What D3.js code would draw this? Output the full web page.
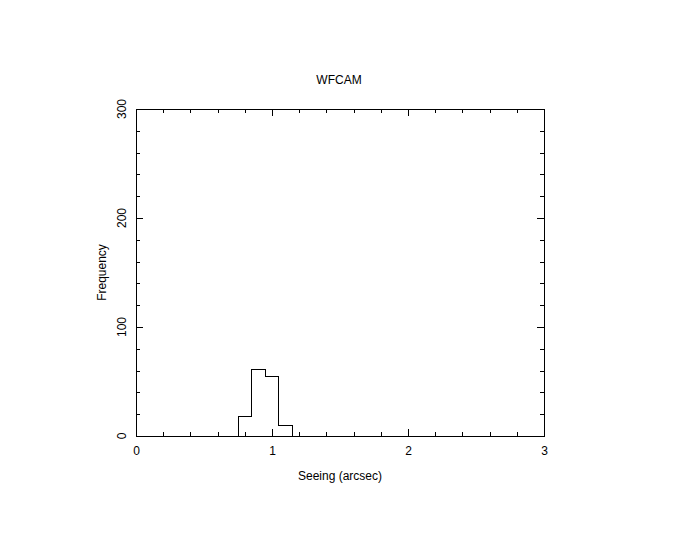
<!DOCTYPE html>
<html lang="en">
<head>
<meta charset="utf-8">
<title>WFCAM seeing</title>
<script src="https://cdn.jsdelivr.net/npm/d3@7"></script>
<style>
  body { margin: 0; background: #fff; }
  text { font-family: "Liberation Sans", "DejaVu Sans", sans-serif; font-size: 12px; fill: #000; }
</style>
</head>
<body>
<script>
// histogram data
var binStarts = [0.75, 0.85, 0.95, 1.05];
var binWidth = 0.1;
var counts = [18, 61, 55, 10];

var xMajor = [0, 1, 2, 3];
var yMajor = [0, 100, 200, 300];

var w = 681, h = 545;
var padL = 136, padR = 544, padT = 109, padB = 436;

var x = d3.scaleLinear().domain([0, 3]).range([padL, padR]);
var y = d3.scaleLinear().domain([0, 300]).range([padB, padT]);

var svg = d3.select("body").append("svg")
  .attr("width", w).attr("height", h);

// minor tick values
var xMinor = d3.range(0, 3.0001, 0.2).filter(function(v) { return Math.abs(v - Math.round(v)) > 1e-6; });
var yMinor = d3.range(0, 300.0001, 20).filter(function(v) { return v % 100 !== 0; });

function addAxis(gen, tr) {
  svg.append("g").attr("transform", tr).call(gen)
    .call(function(g) {
      g.select(".domain").remove();
      g.selectAll("line").attr("stroke", "#000").attr("shape-rendering", "crispEdges");
    });
}

// ticks inward on all four sides
addAxis(d3.axisBottom(x).tickValues(xMajor).tickSize(-7).tickPadding(10).tickFormat(d3.format("d")),
  "translate(0," + padB + ")");
addAxis(d3.axisBottom(x).tickValues(xMinor).tickSize(-4).tickFormat(""), "translate(0," + padB + ")");
addAxis(d3.axisTop(x).tickValues(xMajor).tickSize(-7).tickFormat(""), "translate(0," + padT + ")");
addAxis(d3.axisTop(x).tickValues(xMinor).tickSize(-4).tickFormat(""), "translate(0," + padT + ")");
addAxis(d3.axisLeft(y).tickValues(yMajor).tickSize(-7).tickFormat(""), "translate(" + padL + ",0)");
addAxis(d3.axisLeft(y).tickValues(yMinor).tickSize(-4).tickFormat(""), "translate(" + padL + ",0)");
addAxis(d3.axisRight(y).tickValues(yMajor).tickSize(-7).tickFormat(""), "translate(" + padR + ",0)");
addAxis(d3.axisRight(y).tickValues(yMinor).tickSize(-4).tickFormat(""), "translate(" + padR + ",0)");

svg.selectAll("text.ylab").data(yMajor).enter().append("text")
  .attr("class", "ylab")
  .attr("transform", function(d) { return "translate(126," + y(d) + ") rotate(-90)"; })
  .attr("text-anchor", "middle")
  .text(function(d) { return d; });

// frame
svg.append("rect")
  .attr("x", padL).attr("y", padT)
  .attr("width", padR - padL).attr("height", padB - padT)
  .attr("fill", "none").attr("stroke", "#000").attr("stroke-width", 1)
  .attr("shape-rendering", "crispEdges");

// histogram outline
var pts = [[binStarts[0], 0]];
binStarts.forEach(function(b, i) {
  pts.push([b, counts[i]]);
  pts.push([b + binWidth, counts[i]]);
});
pts.push([binStarts[binStarts.length - 1] + binWidth, 0]);

var line = d3.line()
  .x(function(d) { return x(d[0]); })
  .y(function(d) { return y(d[1]); });

svg.append("path")
  .attr("d", line(pts))
  .attr("fill", "none").attr("stroke", "#000").attr("stroke-width", 1)
  .attr("shape-rendering", "crispEdges");

// title and labels
svg.append("text").attr("x", 339).attr("y", 84).attr("text-anchor", "middle").text("WFCAM");
svg.append("text").attr("x", 340).attr("y", 480).attr("text-anchor", "middle").text("Seeing (arcsec)");
svg.append("text")
  .attr("transform", "translate(106," + ((padT + padB) / 2) + ") rotate(-90)")
  .attr("text-anchor", "middle").text("Frequency");
</script>
</body>
</html>
